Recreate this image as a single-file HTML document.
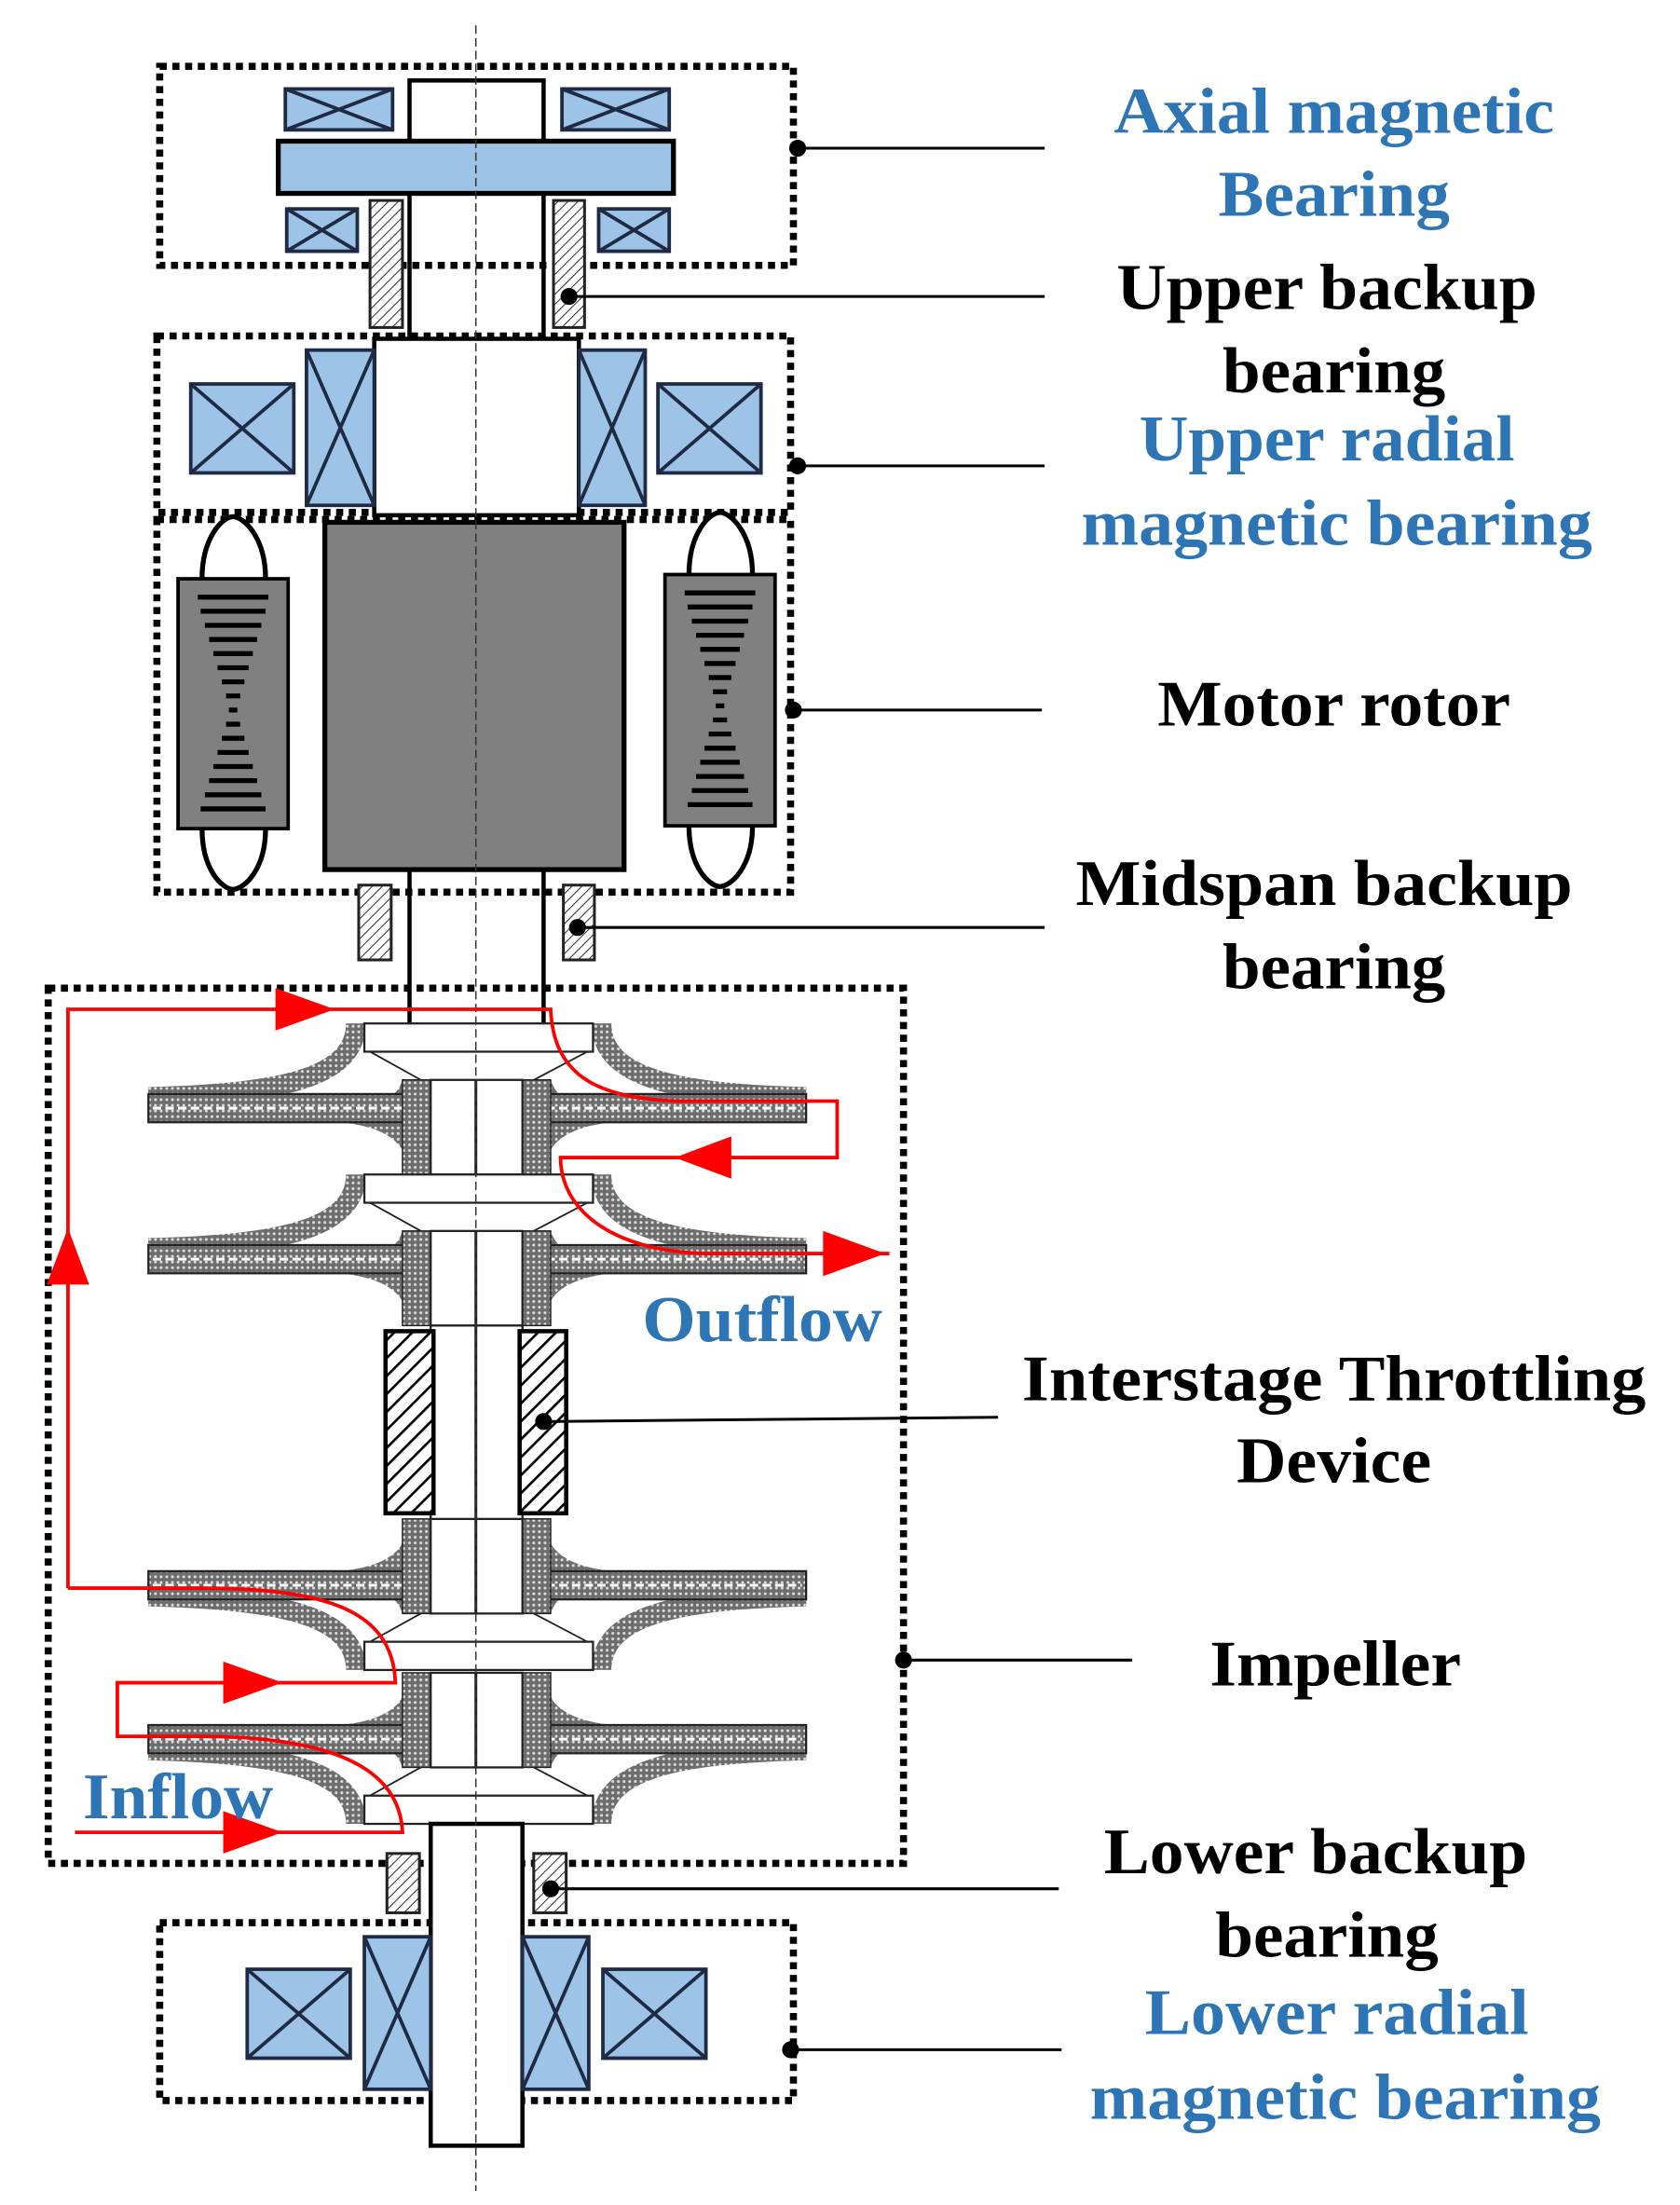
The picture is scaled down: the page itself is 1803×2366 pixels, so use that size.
<!DOCTYPE html>
<html><head><meta charset="utf-8"><style>html,body{margin:0;padding:0;background:#fff}svg{display:block}</style></head>
<body>
<svg width="1803" height="2366" viewBox="0 0 1190 1562" xmlns="http://www.w3.org/2000/svg">
<defs>
<pattern id="dh" width="5" height="5" patternUnits="userSpaceOnUse" patternTransform="rotate(45)"><rect width="5" height="5" fill="#fff"/><line x1="0" y1="0" x2="0" y2="5" stroke="#333" stroke-width="1.4"/></pattern>
<pattern id="th" width="9" height="9" patternUnits="userSpaceOnUse" patternTransform="rotate(45)"><rect width="9" height="9" fill="#fff"/><line x1="0" y1="0" x2="0" y2="9" stroke="#000" stroke-width="3.5"/></pattern>
<pattern id="ih" width="4" height="4" patternUnits="userSpaceOnUse"><rect width="4" height="4" fill="#6d6d6d"/><circle cx="2" cy="2" r="1" fill="#ddd"/></pattern>
<g id="imp">
<path d="M252,0 C252,38 200,50 105,52" fill="none" stroke="url(#ih)" stroke-width="14"/>
<path d="M426,0 C426,38 478,50 571,52" fill="none" stroke="url(#ih)" stroke-width="14"/>
<rect x="258" y="0" width="162" height="20" fill="#fff" stroke="#222" stroke-width="1.5"/>
<line x1="262" y1="20" x2="298" y2="40" stroke="#222" stroke-width="1.2"/>
<line x1="416" y1="20" x2="378" y2="40" stroke="#222" stroke-width="1.2"/>
<path d="M285,40 L285,70 L230,70 C265,62 280,55 285,40Z" fill="url(#ih)"/>
<path d="M390,40 L390,70 L445,70 C410,62 395,55 390,40Z" fill="url(#ih)"/>
<path d="M285,70 L285,90 C280,80 265,72 240,70Z" fill="url(#ih)"/>
<path d="M390,70 L390,90 C395,80 410,72 435,70Z" fill="url(#ih)"/>
<rect x="105" y="50" width="466" height="20" fill="url(#ih)" stroke="#222" stroke-width="1.5"/>
<line x1="108" y1="60" x2="568" y2="60" stroke="#fff" stroke-width="2" stroke-dasharray="6 3"/>
<rect x="285" y="40" width="20" height="67" fill="url(#ih)" stroke="#222" stroke-width="1"/>
<rect x="370" y="40" width="20" height="67" fill="url(#ih)" stroke="#222" stroke-width="1"/>
<rect x="305" y="40" width="65" height="67" fill="#fff" stroke="#222" stroke-width="1.5"/>
<line x1="337" y1="40" x2="337" y2="107" stroke="#222" stroke-width="2"/>
</g>
</defs>
<rect width="1190" height="1562" fill="#fff"/>
<g fill="none" stroke="#000" stroke-width="5" stroke-dasharray="5 4">
<rect x="113" y="47" width="449" height="141"/>
<rect x="111" y="238" width="449" height="125"/>
<rect x="111" y="368" width="449" height="264"/>
<rect x="34" y="700" width="606" height="620"/>
<rect x="113" y="1362" width="449" height="126"/>
</g>
<rect x="290" y="57" width="95" height="43" fill="#fff" stroke="#000" stroke-width="3"/>
<g stroke="#1f2a44" stroke-width="2.5" fill="#9dc3e6">
<rect x="202" y="63" width="76" height="29"/><path d="M202,63 L278,92 M278,63 L202,92"/>
<rect x="398" y="63" width="76" height="29"/><path d="M398,63 L474,92 M474,63 L398,92"/>
<rect x="203" y="148" width="50" height="30"/><path d="M203,148 L253,178 M253,148 L203,178"/>
<rect x="424" y="148" width="50" height="30"/><path d="M424,148 L474,178 M474,148 L424,178"/>
</g>
<rect x="197" y="100" width="280" height="37" fill="#9dc3e6" stroke="#000" stroke-width="3.5"/>
<line x1="290" y1="137" x2="290" y2="240" stroke="#000" stroke-width="3"/>
<line x1="385" y1="137" x2="385" y2="240" stroke="#000" stroke-width="3"/>
<rect x="262" y="142" width="23" height="90" fill="url(#dh)" stroke="#222" stroke-width="2"/>
<rect x="392" y="142" width="22" height="90" fill="url(#dh)" stroke="#222" stroke-width="2"/>
<rect x="265" y="240" width="145" height="125" fill="#fff" stroke="#000" stroke-width="3"/>
<g stroke="#1f2a44" stroke-width="2.5" fill="#9dc3e6">
<rect x="217" y="248" width="48" height="110"/><path d="M217,248 L265,358 M265,248 L217,358"/>
<rect x="410" y="248" width="47" height="110"/><path d="M410,248 L457,358 M457,248 L410,358"/>
<rect x="135" y="272" width="73" height="63"/><path d="M135,272 L208,335 M208,272 L135,335"/>
<rect x="466" y="272" width="73" height="63"/><path d="M466,272 L539,335 M539,272 L466,335"/>
</g>
<rect x="230" y="370" width="212" height="246" fill="#808080" stroke="#000" stroke-width="3.5"/>
<g fill="#fff" stroke="#000" stroke-width="3.5">
<path d="M143,410 C143,380 158,366 165,366 C172,366 188,380 188,410"/>
<path d="M143,587 C143,617 158,630 165,630 C172,630 188,617 188,587"/>
<path d="M488,407 C488,377 503,363 510,363 C517,363 533,377 533,407"/>
<path d="M488,585 C488,615 503,628 510,628 C517,628 533,615 533,585"/>
</g>
<rect x="126" y="410" width="78" height="177" fill="#808080" stroke="#000" stroke-width="2.5"/>
<rect x="471" y="407" width="78" height="178" fill="#808080" stroke="#000" stroke-width="2.5"/>
<g stroke="#000" stroke-width="3.5">
<path d="M140,423H190 M142,433H188 M145,443H185 M148,453H182 M151,463H179 M154,473H176 M157,483H173 M160,493H170 M162,503H168 M160,513H170 M157,523H173 M154,533H176 M151,543H179 M148,553H182 M145,563H185 M142,573H188"/>
<path d="M485,420H535 M487,430H533 M490,440H530 M493,450H527 M496,460H524 M499,470H521 M502,480H518 M505,490H515 M507,500H513 M505,510H515 M502,520H518 M499,530H521 M496,540H524 M493,550H527 M490,560H530 M487,570H533"/>
</g>
<line x1="290" y1="616" x2="290" y2="725" stroke="#000" stroke-width="3"/>
<line x1="385" y1="616" x2="385" y2="725" stroke="#000" stroke-width="3"/>
<rect x="254" y="627" width="23" height="53" fill="url(#dh)" stroke="#222" stroke-width="2"/>
<rect x="399" y="627" width="22" height="53" fill="url(#dh)" stroke="#222" stroke-width="2"/>
<use href="#imp" transform="translate(0,725)"/>
<use href="#imp" transform="translate(0,832)"/>
<use href="#imp" transform="translate(0,1183) scale(1,-1)"/>
<use href="#imp" transform="translate(0,1292) scale(1,-1)"/>
<rect x="305" y="939" width="65" height="137" fill="#fff" stroke="#222" stroke-width="1.5"/>
<line x1="337" y1="939" x2="337" y2="1076" stroke="#222" stroke-width="2"/>
<rect x="273" y="943" width="34" height="129" fill="url(#th)" stroke="#000" stroke-width="3"/>
<rect x="368" y="943" width="33" height="129" fill="url(#th)" stroke="#000" stroke-width="3"/>
<rect x="305" y="1292" width="65" height="228" fill="#fff" stroke="#000" stroke-width="3"/>
<rect x="274" y="1313" width="23" height="42" fill="url(#dh)" stroke="#222" stroke-width="2"/>
<rect x="378" y="1313" width="23" height="42" fill="url(#dh)" stroke="#222" stroke-width="2"/>
<g stroke="#1f2a44" stroke-width="2.5" fill="#9dc3e6">
<rect x="258" y="1372" width="47" height="108"/><path d="M258,1372 L305,1480 M305,1372 L258,1480"/>
<rect x="370" y="1372" width="47" height="108"/><path d="M370,1372 L417,1480 M417,1372 L370,1480"/>
<rect x="175" y="1395" width="73" height="63"/><path d="M175,1395 L248,1458 M248,1395 L175,1458"/>
<rect x="427" y="1395" width="73" height="63"/><path d="M427,1395 L500,1458 M500,1395 L427,1458"/>
</g>
<line x1="337" y1="18" x2="337" y2="1552" stroke="#333" stroke-width="1" stroke-dasharray="6 3"/>
<g fill="none" stroke="#f00" stroke-width="2.5">
<path d="M48,1125 V715 H390 C392,760 420,778 480,780 H593 V820 H397 C397,855 430,886 500,888 H630"/>
<path d="M48,1125 H140 C230,1125 278,1140 280,1192 H83 V1230 H140 C230,1230 283,1250 285,1298 H53"/>
</g>
<g fill="#f00">
<path d="M195,700 L237,715 L195,730Z"/>
<path d="M518,805 L478,820 L518,835Z"/>
<path d="M583,872 L627,888 L583,904Z"/>
<path d="M48,870 L33,910 L63,910Z"/>
<path d="M158,1177 L200,1192 L158,1207Z"/>
<path d="M158,1283 L200,1298 L158,1313Z"/>
</g>
<g stroke="#000" stroke-width="2">
<line x1="565" y1="105" x2="740" y2="105"/>
<line x1="403" y1="210" x2="740" y2="210"/>
<line x1="565" y1="330" x2="740" y2="330"/>
<line x1="562" y1="503" x2="738" y2="503"/>
<line x1="409" y1="657" x2="740" y2="657"/>
<line x1="385" y1="1007" x2="707" y2="1004"/>
<line x1="640" y1="1176" x2="802" y2="1176"/>
<line x1="390" y1="1338" x2="750" y2="1338"/>
<line x1="560" y1="1452" x2="752" y2="1452"/>
</g>
<g fill="#000">
<circle cx="565" cy="105" r="6"/><circle cx="403" cy="210" r="6"/><circle cx="565" cy="330" r="6"/>
<circle cx="562" cy="503" r="6"/><circle cx="409" cy="657" r="6"/><circle cx="385" cy="1007" r="6"/>
<circle cx="640" cy="1176" r="6"/><circle cx="390" cy="1338" r="6"/><circle cx="560" cy="1452" r="6"/>
</g>
<g font-family="Liberation Serif, serif" font-weight="bold" font-size="46" text-anchor="middle">
<g fill="#2e75b6">
<text x="945" y="94" textLength="312" lengthAdjust="spacingAndGlyphs">Axial magnetic</text>
<text x="945" y="153" textLength="164" lengthAdjust="spacingAndGlyphs">Bearing</text>
<text x="940" y="326" textLength="266" lengthAdjust="spacingAndGlyphs">Upper radial</text>
<text x="947" y="386" textLength="362" lengthAdjust="spacingAndGlyphs">magnetic bearing</text>
<text x="947" y="1441" textLength="272" lengthAdjust="spacingAndGlyphs">Lower radial</text>
<text x="953" y="1501" textLength="362" lengthAdjust="spacingAndGlyphs">magnetic bearing</text>
<text x="540" y="950" textLength="170" lengthAdjust="spacingAndGlyphs">Outflow</text>
<text x="126" y="1288" textLength="135" lengthAdjust="spacingAndGlyphs">Inflow</text>
</g>
<g fill="#000">
<text x="940" y="219" textLength="298" lengthAdjust="spacingAndGlyphs">Upper backup</text>
<text x="945" y="278" textLength="158" lengthAdjust="spacingAndGlyphs">bearing</text>
<text x="945" y="514" textLength="250" lengthAdjust="spacingAndGlyphs">Motor rotor</text>
<text x="938" y="641" textLength="352" lengthAdjust="spacingAndGlyphs">Midspan backup</text>
<text x="945" y="700" textLength="158" lengthAdjust="spacingAndGlyphs">bearing</text>
<text x="945" y="992" textLength="442" lengthAdjust="spacingAndGlyphs">Interstage Throttling</text>
<text x="945" y="1050" textLength="138" lengthAdjust="spacingAndGlyphs">Device</text>
<text x="946" y="1194" textLength="178" lengthAdjust="spacingAndGlyphs">Impeller</text>
<text x="932" y="1327" textLength="300" lengthAdjust="spacingAndGlyphs">Lower backup</text>
<text x="940" y="1386" textLength="158" lengthAdjust="spacingAndGlyphs">bearing</text>
</g>
</g>
</svg>
</body></html>
